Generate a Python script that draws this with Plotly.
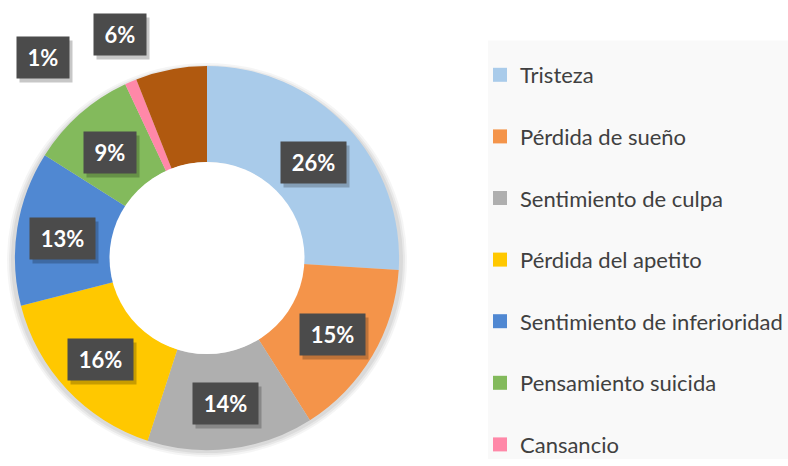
import math
import plotly.graph_objects as go

# Data (clockwise from 12 o'clock)
labels = [
    "Tristeza",
    "Pérdida de sueño",
    "Sentimiento de culpa",
    "Pérdida del apetito",
    "Sentimiento de inferioridad",
    "Pensamiento suicida",
    "Cansancio",
    "Otros",
]
values = [26, 15, 14, 16, 13, 9, 1, 6]
colors = ["#A9CBEA", "#F4944A", "#AFAFAF", "#FFC800", "#5088D2", "#83BA5C", "#FF88A8", "#B0590F"]
legend_labels = labels[:7]  # last entry is cut off in the original

W, H = 788, 466
cx, cy, R = 207, 262, 195  # donut centre / radius in pixels
hole = 0.5

fig = go.Figure()

# soft shadow behind the ring
for off, alpha in [(5, 0.04), (3, 0.05), (1, 0.06)]:
    fig.add_shape(
        type="circle", xref="paper", yref="paper",
        x0=(cx - R - off) / W, x1=(cx + R + off) / W,
        y0=1 - (cy + R + off + 2) / H, y1=1 - (cy - R - off + 2) / H,
        line=dict(width=0), fillcolor="rgba(0,0,0,%s)" % alpha, layer="below",
    )
# keep the hole clean
fig.add_shape(
    type="circle", xref="paper", yref="paper",
    x0=(cx - R * hole) / W, x1=(cx + R * hole) / W,
    y0=1 - (cy + R * hole) / H, y1=1 - (cy - R * hole) / H,
    line=dict(width=0), fillcolor="white", layer="above",
)

# legend background panel (runs off the bottom/right edges)
fig.add_shape(
    type="rect", xref="paper", yref="paper",
    x0=488 / W, x1=1.0, y0=0, y1=1 - 41 / H,
    line=dict(width=0), fillcolor="#F9F9F9", layer="below",
)

fig.add_trace(
    go.Pie(
        labels=labels,
        values=values,
        hole=hole,
        sort=False,
        direction="clockwise",
        rotation=0,
        marker=dict(colors=colors, line=dict(width=0)),
        textinfo="none",
        hoverinfo="label+percent",
        showlegend=False,
        domain=dict(x=[(cx - R) / W, (cx + R) / W], y=[1 - (cy + R) / H, 1 - (cy - R) / H]),
    )
)

# legend entries as invisible markers, one group each so the gap can be set
for name, col in zip(legend_labels, colors):
    fig.add_trace(
        go.Scatter(
            x=[None], y=[None], mode="markers", name=name, legendgroup=name,
            marker=dict(symbol="square", size=14, color=col),
        )
    )

# percentage callouts; thin slices get their label pulled outside the ring
outside_spots = [(-15, 1.35), (-10, 1.26)]  # (angle shift deg, radius factor)
total = sum(values)
cum = 0
n_out = 0
for v in values:
    mid = (cum + v / 2) / total * 2 * math.pi
    cum += v
    if v / total < 0.07:
        shift, rf = outside_spots[min(n_out, len(outside_spots) - 1)]
        n_out += 1
        mid += math.radians(shift)
        r = rf * R
    else:
        r = R * (1 + hole) / 2
    px_ = cx + r * math.sin(mid)
    py_ = cy + 3 - r * math.cos(mid)
    txt = "%d%%" % round(v / total * 100)
    w = 50 if len(txt) == 2 else 63
    common = dict(
        x=px_ / W, y=1 - py_ / H, xref="paper", yref="paper",
        xanchor="center", yanchor="middle",
        showarrow=False, width=w, height=39,
    )
    fig.add_annotation(
        text=" ", bgcolor="rgba(0,0,0,0.22)", xshift=3, yshift=-4, **common
    )
    fig.add_annotation(
        text="<b>%s</b>" % txt, bgcolor="#4B4B4B",
        font=dict(family="Lato, Open Sans, sans-serif", size=22, color="white"),
        **common
    )

fig.update_layout(
    width=W, height=H,
    margin=dict(l=0, r=0, t=0, b=0),
    paper_bgcolor="white", plot_bgcolor="rgba(0,0,0,0)",
    xaxis=dict(visible=False, domain=[0.99, 1]),
    yaxis=dict(visible=False),
    legend=dict(
        x=480 / W, y=1 - 65 / H, xanchor="left", yanchor="top",
        bgcolor="rgba(0,0,0,0)",
        font=dict(family="Lato, Open Sans, sans-serif", size=22, color="#404040"),
        tracegroupgap=30, itemwidth=30,
    ),
)

fig.write_html(
    "out.html",
    config={"displayModeBar": False},
    post_script="document.body.style.margin='0';",
)
